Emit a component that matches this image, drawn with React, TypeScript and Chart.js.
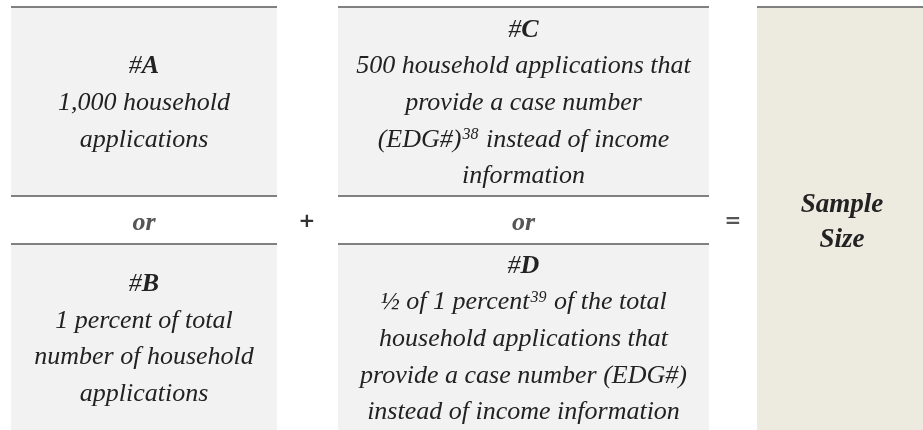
import React, { useEffect, useRef } from "react";
import { Chart, registerables } from "chart.js";

Chart.register(...registerables);

// ---- content (data) ----
const optionTitles = ["#*A*", "#*B*", "#*C*", "#*D*"];
const optionA = ["1,000 household", "applications"];
const optionB = ["1 percent of total", "number of household", "applications"];
const optionC = [
  "500 household applications that",
  "provide a case number",
  "(EDG#)^38^ instead of income",
  "information",
];
const optionD = [
  "½ of 1 percent^39^ of the total",
  "household applications that",
  "provide a case number (EDG#)",
  "instead of income information",
];
const orLabels = ["or", "or"];
const operatorLabels = ["+", "="];
const resultLines = ["Sample", "Size"];

// ---- layout (in scale units = px of the 923x430 frame) ----
const FRAME_W = 923;
const FRAME_H = 430;
const COL_LEFT = { x0: 11, x1: 277 };
const COL_MID = { x0: 338, x1: 709 };
const COL_RES = { x0: 757, x1: 928 };
const ROW_TOP = { y0: 8, y1: 195 };
const ROW_BOT = { y0: 245, y1: 430 };
const LINE_Y = { top: 6, mid1: 195, mid2: 243 };
const OR_BASELINE = 230;
const OP_Y = 222;
const OP_X = [307, 733];
const RESULT_BASELINES = [212, 247];
const RESULT_X = 842;

const FONT = "'Liberation Serif', 'Times New Roman', serif";
const BODY_SIZE = 26;
const RESULT_SIZE = 27;
const LINE_SPACING = 36.6;
const BASELINE_OFFSET = 8.5;
const GRAY_FILL = "#f2f2f2";
const BEIGE_FILL = "#edeae0";
const RULE = "#808080";
const TEXT = "#222222";

type Run = { text: string; bold: boolean; sup: boolean };

function parse(line: string, baseBold = false): Run[] {
  const runs: Run[] = [];
  let bold = baseBold;
  let sup = false;
  let cur = "";
  for (const ch of line) {
    if (ch === "*" || ch === "^") {
      if (cur) runs.push({ text: cur, bold, sup });
      cur = "";
      if (ch === "*") bold = !bold;
      else sup = !sup;
    } else cur += ch;
  }
  if (cur) runs.push({ text: cur, bold, sup });
  return runs;
}

function fontFor(r: Run, size: number) {
  const s = r.sup ? Math.round(size * 0.6) : size;
  return `italic ${r.bold ? "bold " : ""}${s}px ${FONT}`;
}

function drawRich(
  ctx: CanvasRenderingContext2D,
  line: string,
  cx: number,
  baseline: number,
  size: number,
  color: string,
  baseBold = false
) {
  const runs = parse(line, baseBold);
  let total = 0;
  const widths = runs.map((r) => {
    ctx.font = fontFor(r, size);
    const w = ctx.measureText(r.text).width + (r.sup ? 2 : 0);
    total += w;
    return w;
  });
  let x = cx - total / 2;
  ctx.fillStyle = color;
  ctx.textAlign = "left";
  ctx.textBaseline = "alphabetic";
  runs.forEach((r, i) => {
    ctx.font = fontFor(r, size);
    ctx.fillText(r.text, x + (r.sup ? 1 : 0), r.sup ? baseline - size * 0.3 : baseline);
    x += widths[i];
  });
}

const diagramPlugin = {
  id: "diagram",
  afterDraw(chart: any) {
    const ctx: CanvasRenderingContext2D = chart.ctx;
    const sx = chart.scales.x;
    const sy = chart.scales.y;
    const X = (v: number) => sx.getPixelForValue(v);
    const Y = (v: number) => sy.getPixelForValue(v);

    const rect = (c: { x0: number; x1: number }, r: { y0: number; y1: number }, fill: string) => {
      ctx.fillStyle = fill;
      ctx.fillRect(X(c.x0), Y(r.y0), X(c.x1) - X(c.x0), Y(r.y1) - Y(r.y0));
    };
    const rule = (c: { x0: number; x1: number }, y: number) => {
      ctx.fillStyle = RULE;
      ctx.fillRect(X(c.x0), Y(y), X(c.x1) - X(c.x0), Y(y + 2) - Y(y));
    };

    ctx.save();
    // boxes
    rect(COL_LEFT, ROW_TOP, GRAY_FILL);
    rect(COL_LEFT, ROW_BOT, GRAY_FILL);
    rect(COL_MID, ROW_TOP, GRAY_FILL);
    rect(COL_MID, ROW_BOT, GRAY_FILL);
    rect(COL_RES, { y0: ROW_TOP.y0, y1: FRAME_H }, BEIGE_FILL);
    // rules
    [COL_LEFT, COL_MID].forEach((c) => {
      rule(c, LINE_Y.top);
      rule(c, LINE_Y.mid1);
      rule(c, LINE_Y.mid2);
    });
    rule(COL_RES, LINE_Y.top);

    // box text
    const boxes: [typeof COL_LEFT, typeof ROW_TOP, string, string[]][] = [
      [COL_LEFT, ROW_TOP, optionTitles[0], optionA],
      [COL_LEFT, ROW_BOT, optionTitles[1], optionB],
      [COL_MID, ROW_TOP, optionTitles[2], optionC],
      [COL_MID, ROW_BOT, optionTitles[3], optionD],
    ];
    boxes.forEach(([c, r, title, body]) => {
      const lines = [title, ...body];
      const n = lines.length;
      const cx = X((c.x0 + c.x1) / 2);
      const cy = (r.y0 + r.y1) / 2;
      lines.forEach((ln, i) => {
        const b = cy + (i - (n - 1) / 2) * LINE_SPACING + BASELINE_OFFSET;
        drawRich(ctx, ln, cx, Y(b), BODY_SIZE, TEXT);
      });
    });

    // "or" labels
    drawRich(ctx, orLabels[0], X((COL_LEFT.x0 + COL_LEFT.x1) / 2), Y(OR_BASELINE), BODY_SIZE, "#555555", true);
    drawRich(ctx, orLabels[1], X((COL_MID.x0 + COL_MID.x1) / 2), Y(OR_BASELINE), BODY_SIZE, "#555555", true);

    // operators
    ctx.textAlign = "center";
    ctx.textBaseline = "middle";
    ctx.font = `bold 20px 'DejaVu Sans', sans-serif`;
    ctx.fillStyle = "#333333";
    ctx.fillText(operatorLabels[0], X(OP_X[0]), Y(OP_Y));
    ctx.fillStyle = "#555555";
    ctx.fillText(operatorLabels[1], X(OP_X[1]), Y(OP_Y));

    // result
    resultLines.forEach((ln, i) => {
      drawRich(ctx, ln, X(RESULT_X), Y(RESULT_BASELINES[i]), RESULT_SIZE, TEXT, true);
    });
    ctx.restore();
  },
};

export default function App() {
  const ref = useRef<HTMLCanvasElement | null>(null);
  useEffect(() => {
    if (!ref.current) return;
    const chart = new Chart(ref.current, {
      type: "scatter",
      data: { datasets: [{ data: [], pointRadius: 0 }] },
      options: {
        animation: false,
        responsive: true,
        maintainAspectRatio: false,
        layout: { padding: 0 },
        plugins: { legend: { display: false }, tooltip: { enabled: false } },
        scales: {
          x: { type: "linear", min: 0, max: FRAME_W, display: false },
          y: { type: "linear", min: 0, max: FRAME_H, reverse: true, display: false },
        },
      },
      plugins: [diagramPlugin],
    });
    return () => chart.destroy();
  }, []);
  return (
    <div style={{ position: "fixed", left: 0, top: 0, width: "100vw", height: "100vh", background: "#fff" }}>
      <canvas ref={ref} />
    </div>
  );
}
